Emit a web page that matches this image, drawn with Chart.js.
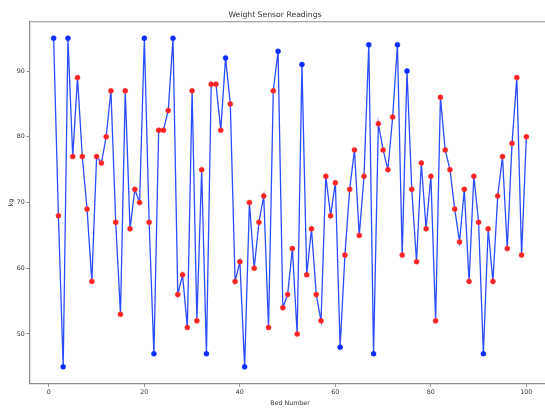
<!DOCTYPE html>
<html>
<head>
<meta charset="utf-8">
<script src="https://cdn.jsdelivr.net/npm/chart.js@4"></script>
<style>
  html, body { margin: 0; padding: 0; background: #fff; overflow: hidden; }
  #wrap { width: 545px; height: 410px; overflow: hidden; }
</style>
</head>
<body>
<div id="wrap">
  <canvas id="sensorChart" width="580" height="410"></canvas>
</div>
<script>
const beds = [
  1, 2, 3, 4, 5, 6, 7, 8, 9, 10, 11, 12, 13, 14, 15, 16, 17, 18, 19, 20,
  21, 22, 23, 24, 25, 26, 27, 28, 29, 30, 31, 32, 33, 34, 35, 36, 37, 38, 39, 40,
  41, 42, 43, 44, 45, 46, 47, 48, 49, 50, 51, 52, 53, 54, 55, 56, 57, 58, 59, 60,
  61, 62, 63, 64, 65, 66, 67, 68, 69, 70, 71, 72, 73, 74, 75, 76, 77, 78, 79, 80,
  81, 82, 83, 84, 85, 86, 87, 88, 89, 90, 91, 92, 93, 94, 95, 96, 97, 98, 99, 100
];
const weights = [
  95, 68, 45, 95, 77, 89, 77, 69, 58, 77, 76, 80, 87, 67, 53, 87, 66, 72, 70, 95,
  67, 47, 81, 81, 84, 95, 56, 59, 51, 87, 52, 75, 47, 88, 88, 81, 92, 85, 58, 61,
  45, 70, 60, 67, 71, 51, 87, 93, 54, 56, 63, 50, 91, 59, 66, 56, 52, 74, 68, 73,
  48, 62, 72, 78, 65, 74, 94, 47, 82, 78, 75, 83, 94, 62, 90, 72, 61, 76, 66, 74,
  52, 86, 78, 75, 69, 64, 72, 58, 74, 67, 47, 66, 58, 71, 77, 63, 79, 89, 62, 80
];
const xTicks = [0, 20, 40, 60, 80, 100];
const yTicks = [50, 60, 70, 80, 90];

const lowLimit = 50;
const highLimit = 90;
const pointColors = weights.map(w => (w < lowLimit || w >= highLimit) ? "#0b2dff" : "#ff2424");

const spineColor = "#8c8c8c";
const textColor = "#333";
const fontFamily = "'DejaVu Sans', sans-serif";

// top spine only, the right one is cut off by the window anyway
const topSpine = {
  id: "topSpine",
  afterDraw(chart) {
    const { ctx, chartArea: a } = chart;
    ctx.save();
    ctx.strokeStyle = spineColor;
    ctx.lineWidth = 1.2;
    ctx.beginPath();
    ctx.moveTo(a.left, a.top);
    ctx.lineTo(a.right, a.top);
    ctx.stroke();
    ctx.restore();
  },
};

const ctx = document.getElementById("sensorChart").getContext("2d");

new Chart(ctx, {
  type: "line",
  data: {
    datasets: [
      {
        data: beds.map((b, i) => ({ x: b, y: weights[i] })),
        borderColor: "#2b4cff",
        borderWidth: 1.3,
        tension: 0,
        pointRadius: 2.5,
        pointBackgroundColor: pointColors,
        pointBorderColor: pointColors,
        pointBorderWidth: 0.5,
      },
    ],
  },
  options: {
    responsive: false,
    animation: false,
    events: [],
    layout: { padding: { left: 0, right: 30, top: 0, bottom: 0 } },
    plugins: {
      legend: { display: false },
      tooltip: { enabled: false },
      title: {
        display: true,
        text: "Weight Sensor Readings",
        color: textColor,
        font: { family: fontFamily, size: 7.7, weight: "normal" },
        padding: { top: 10.4, bottom: 2.1 },
      },
    },
    scales: {
      x: {
        type: "linear",
        min: -3.95,
        max: 104.95,
        afterBuildTicks: (s) => { s.ticks = xTicks.map(v => ({ value: v })); },
        afterFit: (s) => { s.height = 26.7; },
        grid: { display: true, drawOnChartArea: false, tickLength: 3.5, color: spineColor },
        border: { display: true, color: spineColor, width: 1.2 },
        ticks: {
          color: textColor,
          padding: 2.1,
          maxRotation: 0,
          font: { family: fontFamily, size: 6.3 },
        },
        title: {
          display: true,
          text: "Bed Number",
          color: textColor,
          font: { family: fontFamily, size: 6.3 },
          padding: { top: 0, bottom: 2.5 },
        },
      },
      y: {
        min: 42.5,
        max: 97.5,
        afterBuildTicks: (s) => { s.ticks = yTicks.map(v => ({ value: v })); },
        afterFit: (s) => { s.width = 30; },
        grid: { display: true, drawOnChartArea: false, tickLength: 3.5, color: spineColor },
        border: { display: true, color: spineColor, width: 1.2 },
        ticks: {
          color: textColor,
          padding: 1.8,
          font: { family: fontFamily, size: 6.3 },
        },
        title: {
          display: true,
          text: "kg",
          color: textColor,
          font: { family: fontFamily, size: 6.3 },
          padding: { top: 7.9, bottom: 0 },
        },
      },
    },
  },
  plugins: [topSpine],
});
</script>
</body>
</html>
